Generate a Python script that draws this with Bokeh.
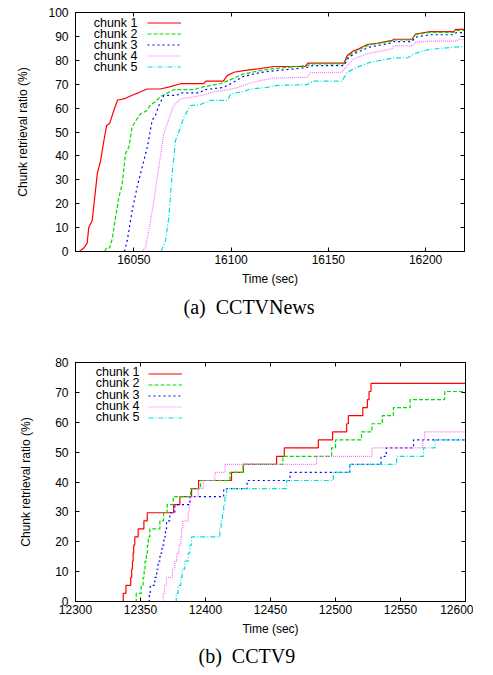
from bokeh.plotting import figure
from bokeh.models import (LinearAxis, FixedTicker, Range1d, Title, Legend,
                          LegendItem, Label, CustomJSTickFormatter)
from bokeh.layouts import column
from bokeh.embed import file_html
from bokeh.resources import INLINE

names = ["chunk 1", "chunk 2", "chunk 3", "chunk 4", "chunk 5"]
colors = ["#ff0000", "#00dd00", "#0000ff", "#ff70ff", "#00e0e0"]
dashes = ["solid", "4 2", "2 3", "1 1", "5 2 1 2"]

# ---------------- (a) CCTVNews ----------------
a_t1 = [16022, 16024.3, 16026, 16026.8, 16028.6, 16031.2, 16032.9, 16034.6, 16036, 16037.6, 16039.7, 16041.7,
        16043, 16046, 16050, 16052.6, 16056.8, 16063.7, 16068.8, 16074, 16086, 16087, 16096, 16098, 16101.4,
        16106.5, 16114, 16122, 16138, 16139.5, 16158, 16159.7, 16163, 16165.7, 16170, 16175, 16182.8, 16183.7,
        16193, 16194.8, 16202.5, 16214.5, 16215.4, 16220]
a_v1 = [0, 1.5, 3.5, 10, 13, 32.5, 38, 46.4, 52.7, 53.7, 59, 63.5,
        63.5, 64.2, 65.7, 66.5, 68, 68, 69, 70.2, 70.2, 71.3, 71.3, 73.6, 75,
        75.7, 76.4, 77.4, 77.4, 78.8, 78.8, 82, 84, 84.8, 86.6, 87.1, 88.3, 88.8,
        88.8, 91, 92, 92, 92.9, 92.9]
a_t2 = [16034.9, 16036, 16037.5, 16038.9, 16040.6, 16042.3, 16044, 16045.7, 16047.4, 16049.1, 16050.8, 16053.4,
        16056.8, 16058.6, 16061, 16063.7, 16065.4, 16070.5, 16080.8, 16086, 16094.5, 16100, 16106, 16115, 16122,
        16139, 16142, 16158, 16160.5, 16164, 16171, 16182.8, 16183.7, 16193, 16194.8, 16202.5, 16214.5, 16216, 16220]
a_v2 = [0, 1.5, 1.5, 5.3, 14.4, 22.7, 28.3, 40.9, 43.6, 52, 54.5, 57.6,
        59, 61.5, 62.5, 64.9, 65.5, 67.7, 67.7, 69, 70.2, 72, 74.2, 75.7, 76.5,
        77.8, 78.5, 78.5, 82, 83.7, 86.5, 88, 88.5, 88.5, 90.7, 91.7, 91.7, 92.5, 92.5]
a_t3 = [16045.2, 16046.6, 16049.1, 16051.7, 16054.3, 16056.9, 16059.4, 16061.1, 16062.8, 16065.4, 16072, 16074,
        16084, 16086, 16096, 16101.4, 16106, 16115, 16122, 16139, 16142, 16158, 16160.5, 16164, 16171, 16182.8,
        16183.7, 16193, 16194.8, 16202.5, 16214.5, 16215.7, 16220]
a_v3 = [0, 4.6, 17, 27, 35.3, 43.6, 54.8, 57, 61, 65.3, 65.3, 66.4,
        66.4, 67.7, 68.6, 70.9, 73.2, 74.9, 75.6, 77, 77.8, 77.8, 81.3, 83, 85.5, 87.3,
        87.8, 87.8, 89.7, 90.7, 90.7, 91.6, 91.6]
a_t4 = [16054.3, 16056, 16057.7, 16060.3, 16062.8, 16065.4, 16068, 16070.5, 16074, 16080, 16086, 16091,
        16097.7, 16103, 16110, 16115, 16122, 16139, 16140.8, 16157, 16159.7, 16163, 16170, 16182.8, 16183.7,
        16193, 16194.8, 16202.5, 16216, 16217, 16220]
a_v4 = [0, 1.8, 8.8, 21.3, 35.3, 49.2, 55.5, 61, 63.9, 64.6, 65.5, 66.9,
        67.6, 68.5, 70.5, 71.5, 72.6, 72.9, 74.8, 75, 77.8, 80.6, 82.7, 84.8, 86,
        86, 87.6, 88, 88, 88.7, 88.7]
a_t5 = [16064, 16066.3, 16068, 16069.7, 16071.4, 16073.1, 16075.7, 16079.1, 16084.2, 16089.4, 16097.9, 16100,
        16106.5, 16110, 16118.6, 16123.7, 16139, 16142.6, 16157, 16159.7, 16164.8, 16171.7, 16183.7, 16190.6,
        16194, 16200.8, 16207.7, 16218, 16220]
a_v5 = [0, 4.6, 14.4, 32.5, 46.4, 49.9, 56.2, 61, 61.5, 63.2, 63.2, 66,
        67, 68, 68.7, 69.5, 69.8, 71.3, 71.3, 75, 77.1, 79.2, 81, 81,
        82.7, 84.4, 85, 85.7, 85.7]
a_xticks = [16050, 16100, 16150, 16200]
a_yticks = [0, 10, 20, 30, 40, 50, 60, 70, 80, 90, 100]

# ---------------- (b) CCTV9 ----------------
b_t1 = [12335.4, 12336.7, 12338.8, 12342.5, 12343.2, 12343.8, 12344.3, 12344.8, 12345.6, 12348.2, 12352.6,
        12355.2, 12375.5, 12380.3, 12389.3, 12394.7, 12420, 12429.1, 12454.7, 12460.6, 12486.8, 12497.8,
        12508.6, 12509.9, 12521, 12524.5, 12525.8, 12527.3, 12600]
b_v1 = [0, 2.7, 5.4, 8.1, 10.8, 13.5, 16.2, 18.9, 21.6, 24.3, 27.0,
        29.7, 32.4, 35.1, 37.8, 40.5, 43.2, 45.9, 48.6, 51.4, 54.1, 56.8,
        59.5, 62.2, 64.9, 67.6, 70.3, 73.0, 73.0]
b_t2 = [12345.7, 12346.7, 12350.5, 12352, 12352.8, 12353.5, 12354.5, 12355.3, 12356, 12357.2, 12364.9,
        12367.8, 12370.5, 12375.2, 12388.5, 12396.2, 12418.8, 12429, 12459.5, 12497, 12500, 12520, 12528,
        12536, 12544.5, 12557.4, 12584, 12600]
b_v2 = [0, 2.7, 5.4, 8.1, 10.8, 13.5, 16.2, 18.9, 21.6, 24.3, 27.0,
        29.7, 32.4, 35.1, 37.8, 40.5, 43.2, 45.9, 48.6, 51.4, 54.1, 56.8, 59.5,
        62.2, 64.9, 67.6, 70.3, 70.3]
b_t3 = [12356.4, 12356.8, 12357.5, 12361, 12362.5, 12363.5, 12365, 12366.5, 12368, 12369.2, 12370,
        12372.6, 12376.4, 12388, 12414, 12432, 12465, 12511, 12535, 12539, 12560, 12600]
b_v3 = [0, 2.7, 5.4, 8.1, 10.8, 13.5, 16.2, 18.9, 21.6, 24.3, 27.0,
        29.7, 32.4, 35.1, 37.8, 40.5, 43.2, 45.9, 48.6, 51.4, 54.1, 54.1]
b_t4 = [12366.7, 12367.5, 12368.5, 12370, 12374.5, 12376.4, 12378, 12379.5, 12381, 12381.6, 12382.5,
        12386.7, 12387.3, 12388, 12394.4, 12398.3, 12407.2, 12415, 12485.5, 12528, 12567, 12568.5, 12600]
b_v4 = [0, 2.7, 5.4, 8.1, 10.8, 13.5, 16.2, 18.9, 21.6, 24.3, 27.0,
        29.7, 32.4, 35.1, 37.8, 40.5, 43.2, 45.9, 48.6, 51.4, 54.1, 56.8, 56.8]
b_t5 = [12376.4, 12377.5, 12379, 12381, 12382, 12384, 12386.7, 12388, 12389.3, 12411, 12412,
        12413, 12414, 12415, 12416.2, 12462.4, 12498.3, 12511, 12547, 12567.7, 12576.6, 12600]
b_v5 = [0, 2.7, 5.4, 8.1, 10.8, 13.5, 16.2, 18.9, 21.6, 24.3, 27.0,
        29.7, 32.4, 35.1, 37.8, 40.5, 43.2, 45.9, 48.6, 51.4, 54.1, 54.1]
b_xticks = [12300, 12350, 12400, 12450, 12500, 12550, 12600]
b_yticks = [0, 10, 20, 30, 40, 50, 60, 70, 80]

FONT = "Liberation Sans"
FS = "12px"
blank = CustomJSTickFormatter(code="return ''")


def make_fig(xr, yr, xticks, yticks, frame_w, border_left, border_top, border_bottom,
             ylabel_standoff, caption, cap_offset, cap_standoff):
    p = figure(output_backend="svg", toolbar_location=None,
               frame_width=frame_w, frame_height=239,
               x_range=Range1d(*xr), y_range=Range1d(*yr),
               min_border_left=border_left, min_border_right=8,
               min_border_top=border_top, min_border_bottom=border_bottom)
    p.grid.visible = False
    p.outline_line_color = "black"
    p.outline_line_width = 1
    for ax, ticks in ((p.xaxis[0], xticks), (p.yaxis[0], yticks)):
        ax.ticker = FixedTicker(ticks=ticks)
        ax.minor_tick_line_color = None
        ax.major_tick_in = 4
        ax.major_tick_out = 0
        ax.axis_line_color = "black"
        ax.major_label_text_font = FONT
        ax.major_label_text_font_size = FS
        ax.major_label_text_color = "black"
        ax.axis_label_text_font = FONT
        ax.axis_label_text_font_size = FS
        ax.axis_label_text_font_style = "normal"
        ax.axis_label_text_color = "black"
    p.xaxis.axis_label = "Time (sec)"
    p.xaxis.major_label_standoff = 3
    p.xaxis.axis_label_standoff = 5
    p.yaxis.axis_label = "Chunk retrieval ratio (%)"
    p.yaxis.major_label_standoff = 7
    p.yaxis.axis_label_standoff = ylabel_standoff
    # mirrored ticks (top / right), as in gnuplot
    for side, ticks in (("above", xticks), ("right", yticks)):
        ax = LinearAxis(ticker=FixedTicker(ticks=ticks), formatter=blank,
                        major_tick_in=4, major_tick_out=0, minor_tick_line_color=None,
                        major_label_standoff=0, major_label_text_font_size="0px")
        p.add_layout(ax, side)
    cap = Title(text=caption, align="left", offset=cap_offset,
                text_font="Liberation Serif", text_font_size="20px",
                text_font_style="normal", text_color="black", standoff=cap_standoff)
    p.add_layout(cap, "below")
    return p


def add_legend(p, renderers, rows_dy, text_right, glyph_left, top_gap):
    items = [LegendItem(label=" ", renderers=[r]) for r in renderers]
    n = len(items)
    top_y = 239 - top_gap
    leg = Legend(items=items, location=(glyph_left, top_y + rows_dy / 2 - n * rows_dy),
                 glyph_height=int(rows_dy), glyph_width=34, label_height=int(rows_dy),
                 label_text_font_size="6px", label_width=2, spacing=0, padding=0, margin=0,
                 border_line_color=None, background_fill_alpha=0)
    p.add_layout(leg, "center")
    for i, nm in enumerate(names):
        p.add_layout(Label(x=text_right, y=top_y - i * rows_dy, x_units="screen", y_units="screen",
                           text=nm, text_align="right", text_baseline="middle",
                           text_font=FONT, text_font_size="12.5px", text_color="black"))


pa = make_fig((16020, 16220), (0, 100), a_xticks, a_yticks, 389, 71, 12, 89, 15,
              "(a)\u00a0\u00a0CCTVNews", 108, 11)
ra = []
for t, v, c, d in zip([a_t1, a_t2, a_t3, a_t4, a_t5], [a_v1, a_v2, a_v3, a_v4, a_v5], colors, dashes):
    ra.append(pa.line(t, v, line_color=c, line_dash=d, line_width=1.2))
add_legend(pa, ra, 11.1, 62, 72, 10.5)

pb = make_fig((12300, 12600), (0, 80), b_xticks, b_yticks, 390, 75, 22, 60, 19,
              "(b)\u00a0\u00a0CCTV9", 123, 9)
rb = []
for t, v, c, d in zip([b_t1, b_t2, b_t3, b_t4, b_t5], [b_v1, b_v2, b_v3, b_v4, b_v5], colors, dashes):
    rb.append(pb.step(t, v, mode="after", line_color=c, line_dash=d, line_width=1.2))
add_legend(pb, rb, 11.4, 64, 73, 9.3)

layout = column(pa, pb, spacing=0)
open("out.html", "w").write(file_html(layout, INLINE))
